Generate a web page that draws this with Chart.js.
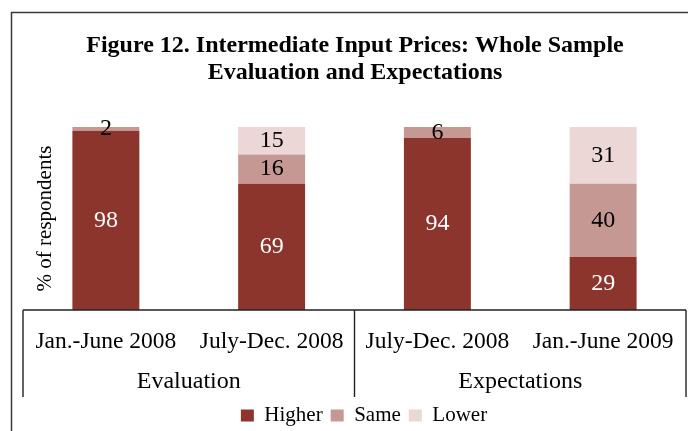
<!DOCTYPE html>
<html>
<head>
<meta charset="utf-8">
<script src="https://cdn.jsdelivr.net/npm/chart.js@4/dist/chart.umd.min.js"></script>
<style>
  html, body { margin: 0; padding: 0; background: #fff; }
  #wrap { position: relative; width: 688px; height: 431px; }
</style>
</head>
<body>
<div id="wrap"><canvas id="c" width="688" height="431"></canvas></div>
<script>
const titleLines = ['Figure 12. Intermediate Input Prices: Whole Sample', 'Evaluation and Expectations'];
const categories = ['Jan.-June 2008', 'July-Dec. 2008', 'July-Dec. 2008', 'Jan.-June 2009'];
const groups = ['Evaluation', 'Expectations'];
const higher = [98, 69, 94, 29];
const same = [2, 16, 6, 40];
const lower = [0, 15, 0, 31];
const seriesNames = ['Higher', 'Same', 'Lower'];
const seriesColors = ['#8C352D', '#C69893', '#EAD7D6'];
const labelColors = ['#ffffff', '#000000', '#000000'];
const yTitle = '% of respondents';

const SERIF = "'Liberation Serif', 'Times New Roman', serif";

const frameAndTable = {
  id: 'frameAndTable',
  beforeDraw(chart) {
    const ctx = chart.ctx;
    ctx.save();
    ctx.strokeStyle = '#3a3a3a';
    ctx.lineWidth = 1.5;
    ctx.beginPath();
    ctx.moveTo(11.5, 431);
    ctx.lineTo(11.5, 12.5);
    ctx.lineTo(688, 12.5);
    ctx.stroke();
    ctx.restore();
  },
  afterDraw(chart) {
    const ctx = chart.ctx;
    const xs = chart.scales.x;
    const area = chart.chartArea;
    const mid = xs.getPixelForValue(1.5);
    const bottom = 397;
    ctx.save();
    ctx.strokeStyle = '#222';
    ctx.lineWidth = 1.4;
    ctx.beginPath();
    ctx.moveTo(area.left, area.bottom);
    ctx.lineTo(area.right, area.bottom);
    [area.left, mid, area.right].forEach(x => {
      ctx.moveTo(x, area.bottom);
      ctx.lineTo(x, bottom);
    });
    ctx.stroke();
    ctx.restore();
  }
};

const segmentLabels = {
  id: 'segmentLabels',
  afterDatasetsDraw(chart) {
    const ctx = chart.ctx;
    ctx.save();
    ctx.font = '24px ' + SERIF;
    ctx.textAlign = 'center';
    ctx.textBaseline = 'middle';
    chart.data.datasets.forEach((ds, di) => {
      const meta = chart.getDatasetMeta(di);
      meta.data.forEach((bar, i) => {
        const v = ds.data[i];
        if (!v) return;
        ctx.fillStyle = labelColors[di];
        ctx.fillText(String(v), bar.x, (bar.y + bar.base) / 2);
      });
    });
    ctx.restore();
  }
};

const blockShift = {
  id: 'blockShift',
  afterLayout(chart) {
    if (chart.legend) {
      chart.legend.left += 21;
      chart.legend.right += 21;
    }
    if (chart.titleBlock) {
      chart.titleBlock.left += 12;
      chart.titleBlock.right += 12;
    }
  }
};

function noSidePadding(s) {
  s.paddingLeft = 0;
  s.paddingRight = 0;
}

new Chart(document.getElementById('c'), {
  type: 'bar',
  data: {
    labels: categories,
    datasets: [
      { label: seriesNames[0], data: higher, backgroundColor: seriesColors[0] },
      { label: seriesNames[1], data: same, backgroundColor: seriesColors[1] },
      { label: seriesNames[2], data: lower, backgroundColor: seriesColors[2] }
    ]
  },
  options: {
    responsive: false,
    animation: false,
    devicePixelRatio: 1,
    layout: { padding: { top: 0, left: 0, right: 2, bottom: -5 } },
    datasets: { bar: { categoryPercentage: 1, barPercentage: 0.404, borderWidth: 0 } },
    plugins: {
      tooltip: { enabled: false },
      title: {
        display: true,
        text: titleLines,
        color: '#000',
        font: { family: SERIF, size: 24, weight: 'bold', lineHeight: 1.15 },
        padding: { top: 31.5, bottom: 40.3 }
      },
      legend: {
        display: true,
        position: 'bottom',
        labels: {
          color: '#000',
          font: { family: SERIF, size: 21 },
          boxWidth: 13,
          boxHeight: 12,
          padding: 8
        }
      }
    },
    scales: {
      x: {
        stacked: true,
        offset: true,
        grid: { display: false, drawTicks: false, tickLength: 0 },
        border: { display: false },
        ticks: { color: '#000', font: { family: SERIF, size: 23.5 }, padding: 17.5, maxRotation: 0, autoSkip: false },
        afterFit(s) { s.height = 46; noSidePadding(s); }
      },
      x2: {
        type: 'category',
        labels: groups,
        position: 'bottom',
        offset: true,
        grid: { display: false, drawTicks: false, tickLength: 0 },
        border: { display: false },
        ticks: { color: '#000', font: { family: SERIF, size: 24 }, padding: 11.5, maxRotation: 0, autoSkip: false },
        afterFit(s) { s.height = 41; noSidePadding(s); }
      },
      y: {
        stacked: true,
        min: 0,
        max: 100,
        grid: { display: false, drawTicks: false, tickLength: 0 },
        border: { display: false },
        ticks: { display: false },
        title: {
          display: true,
          text: yTitle,
          color: '#000',
          font: { family: SERIF, size: 21 },
          padding: { top: 32.4, bottom: -34.6 }
        }
      }
    }
  },
  plugins: [frameAndTable, segmentLabels, blockShift]
});
</script>
</body>
</html>
